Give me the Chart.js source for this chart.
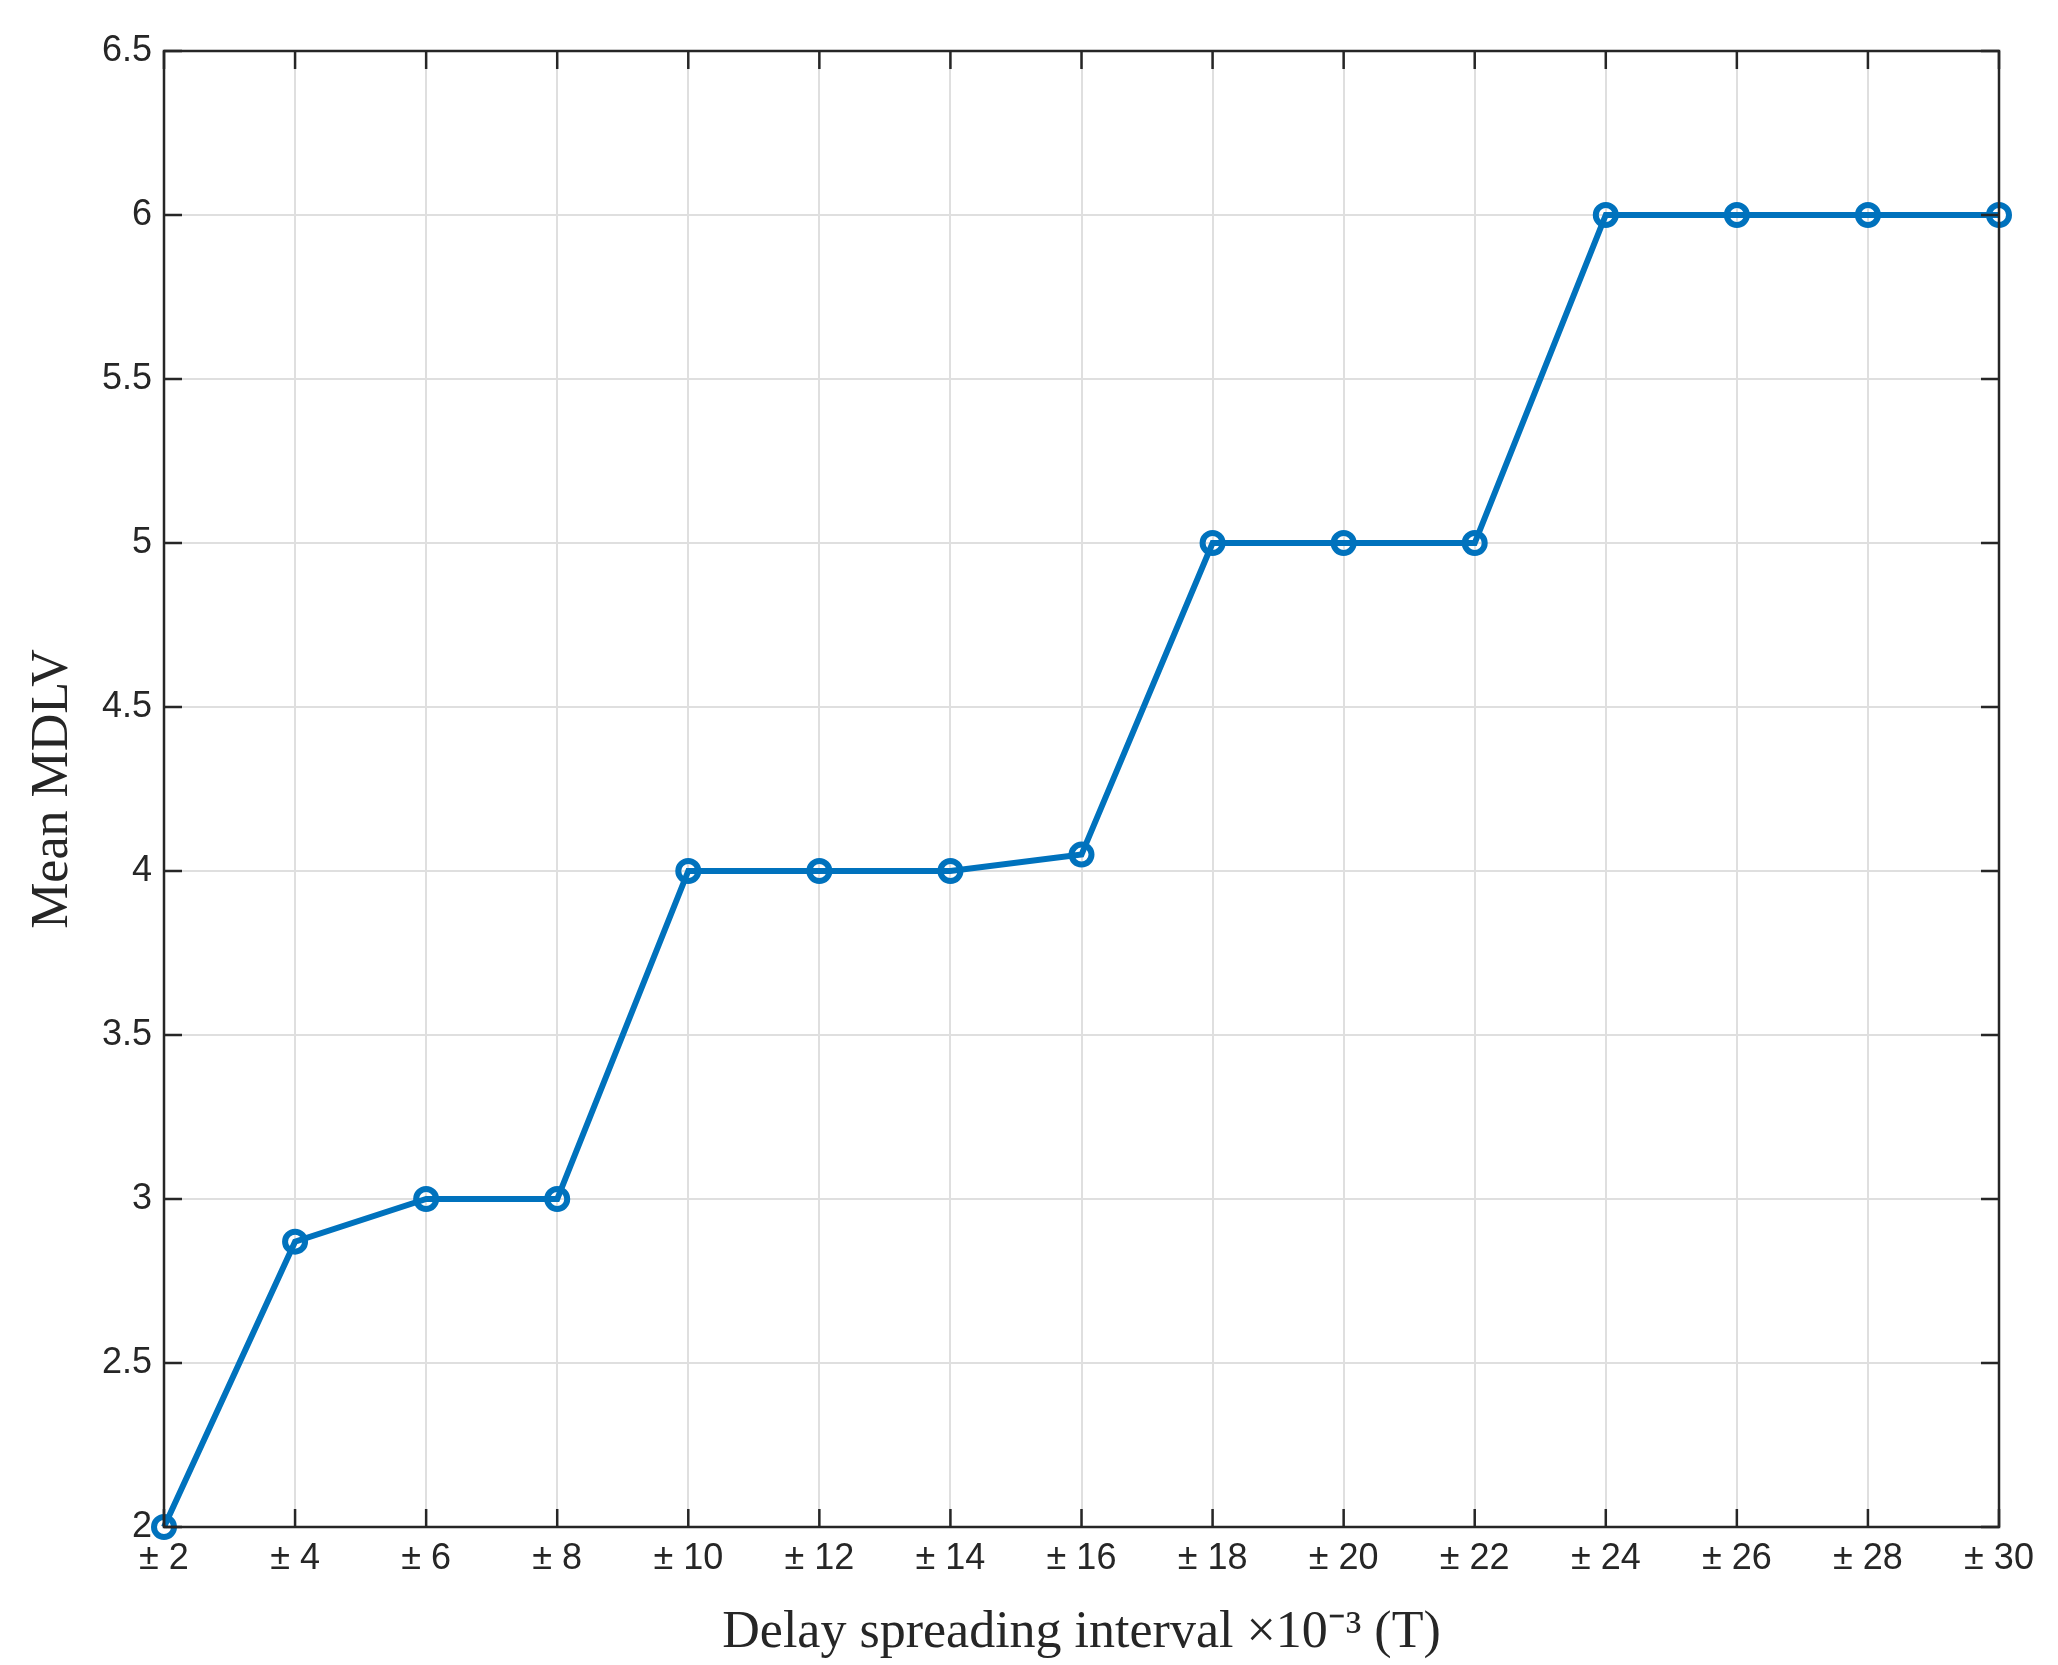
<!DOCTYPE html>
<html><head><meta charset="utf-8">
<script src="https://cdn.jsdelivr.net/npm/chart.js@4"></script>
<style>html,body{margin:0;padding:0;background:#fff}#w{width:2058px;height:1665px}</style>
</head><body><div id="w"><canvas id="c"></canvas></div>
<script>
const categories = ['± 2','± 4','± 6','± 8','± 10','± 12','± 14','± 16','± 18','± 20','± 22','± 24','± 26','± 28','± 30'];
const mdlv = [2, 2.87, 3, 3, 4, 4, 4, 4.05, 5, 5, 5, 6, 6, 6, 6];
const yTicks = [2, 2.5, 3, 3.5, 4, 4.5, 5, 5.5, 6, 6.5];

const boxPlugin = {
  id: 'box',
  afterDatasetsDraw(chart) {
    const {ctx, chartArea: a, scales} = chart;
    ctx.save();
    ctx.strokeStyle = '#262626';
    ctx.lineWidth = 2.5;
    ctx.strokeRect(a.left, a.top, a.right - a.left, a.bottom - a.top);
    ctx.beginPath();
    scales.x.ticks.forEach((t, i) => {
      const x = scales.x.getPixelForTick(i);
      ctx.moveTo(x, a.bottom); ctx.lineTo(x, a.bottom - 18);
      ctx.moveTo(x, a.top); ctx.lineTo(x, a.top + 18);
    });
    scales.y.ticks.forEach((t, i) => {
      const y = scales.y.getPixelForTick(i);
      ctx.moveTo(a.left, y); ctx.lineTo(a.left + 18, y);
      ctx.moveTo(a.right, y); ctx.lineTo(a.right - 18, y);
    });
    ctx.stroke();
    ctx.restore();
  }
};

new Chart(document.getElementById('c'), {
  type: 'line',
  data: { labels: categories, datasets: [{
    data: mdlv, borderColor: '#0072BD', borderWidth: 6,
    pointRadius: 10, pointBorderWidth: 6, pointBackgroundColor: 'rgba(0,0,0,0)',
    pointBorderColor: '#0072BD', tension: 0, clip: false
  }]},
  options: {
    responsive: true, maintainAspectRatio: false, animation: false,
    devicePixelRatio: 1,
    layout: { padding: { top: 51, right: 59, left: 0, bottom: 0 } },
    plugins: { legend: { display: false }, tooltip: { enabled: false } },
    scales: {
      x: {
        type: 'category', offset: false,
        grid: { color: '#dfdfdf', lineWidth: 2, drawTicks: false },
        border: { display: false },
        ticks: { color: '#262626', font: { family: 'Liberation Sans', size: 36 }, padding: 10, maxRotation: 0, autoSkip: false },
        title: { display: true, text: 'Delay spreading interval ×10⁻³ (T)', color: '#262626',
          font: { family: 'Liberation Serif', size: 52 }, padding: { top: 0, bottom: 0 } },
        afterFit(s) { s.height = 138; }
      },
      y: {
        min: 2, max: 6.5,
        afterBuildTicks(s) { s.ticks = yTicks.map(v => ({ value: v })); },
        grid: { color: '#dfdfdf', lineWidth: 2, drawTicks: false },
        border: { display: false },
        ticks: { color: '#262626', font: { family: 'Liberation Sans', size: 36 }, padding: 12,
          callback: v => String(v) },
        title: { display: true, text: 'Mean MDLV', color: '#262626',
          font: { family: 'Liberation Serif', size: 52 }, padding: { top: 22, bottom: 10 } },
        afterFit(s) { s.width = 164; }
      }
    }
  },
  plugins: [boxPlugin]
});
</script></body></html>
